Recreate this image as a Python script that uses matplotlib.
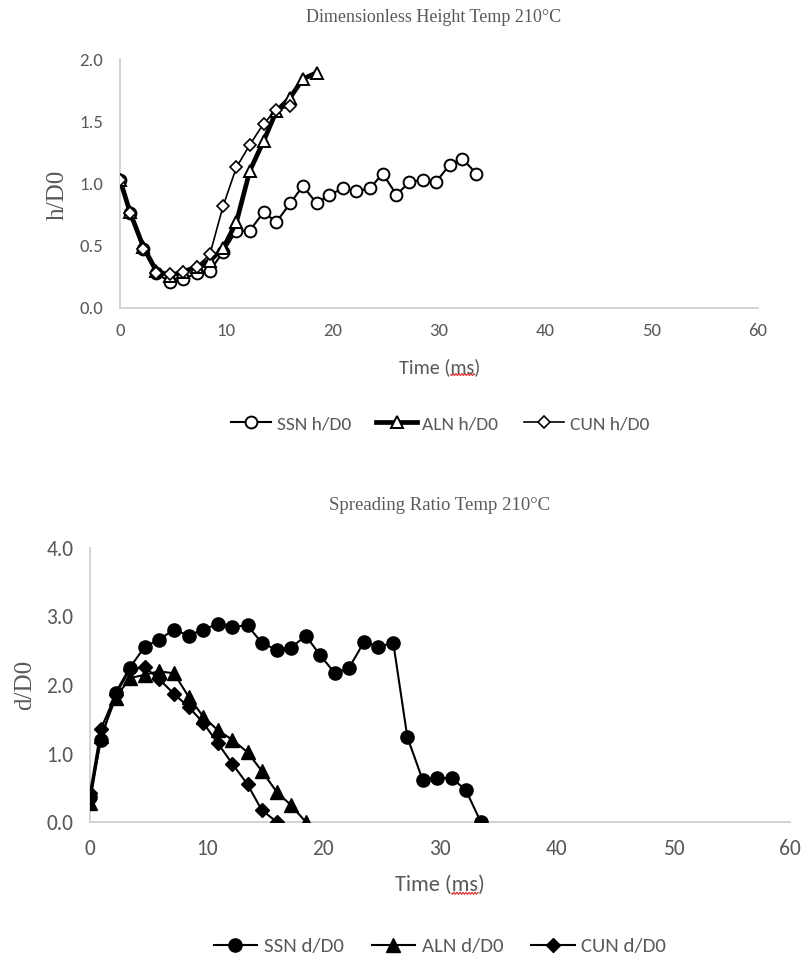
import numpy as np
import matplotlib
matplotlib.use("Agg")
import matplotlib.pyplot as plt
from matplotlib.lines import Line2D

# time axis shared by all series (ms)
time_ms = [0, 0.94, 2.2, 3.4, 4.7, 5.9, 7.2, 8.45, 9.7, 10.95, 12.2, 13.5, 14.7, 16.0,
           17.2, 18.5, 19.7, 21.0, 22.2, 23.5, 24.7, 26.0, 27.2, 28.5, 29.7, 31.0, 32.2, 33.5]

# dimensionless height h/D0
ssn_h = [1.03, 0.76, 0.47, 0.28, 0.21, 0.23, 0.28, 0.30, 0.45, 0.62, 0.62, 0.77, 0.69, 0.84,
         0.98, 0.84, 0.91, 0.96, 0.94, 0.96, 1.08, 0.91, 1.01, 1.03, 1.01, 1.15, 1.20, 1.08]
aln_h = [1.03, 0.77, 0.49, 0.30, 0.26, 0.29, 0.33, 0.38, 0.48, 0.69, 1.10, 1.34, 1.58, 1.69,
         1.84, 1.89]
cun_h = [1.03, 0.76, 0.47, 0.28, 0.27, 0.29, 0.33, 0.43, 0.82, 1.13, 1.31, 1.48, 1.59, 1.62]

# spreading ratio d/D0
ssn_d = [0.37, 1.20, 1.89, 2.25, 2.56, 2.66, 2.81, 2.72, 2.81, 2.89, 2.85, 2.87, 2.62, 2.51,
         2.54, 2.72, 2.44, 2.17, 2.25, 2.63, 2.56, 2.61, 1.24, 0.62, 0.64, 0.64, 0.47, 0.0]
aln_d = [0.28, 1.25, 1.81, 2.10, 2.15, 2.20, 2.17, 1.83, 1.54, 1.34, 1.20, 1.02, 0.75, 0.44,
         0.25, 0.0]
cun_d = [0.42, 1.36, 1.86, 2.22, 2.26, 2.09, 1.87, 1.68, 1.45, 1.15, 0.85, 0.55, 0.18, 0.0]

x_ticks = [0, 10, 20, 30, 40, 50, 60]

W, H = 801, 956
GRAY = "#595959"
AXC = "#D0D0D0"
SANS = ["Carlito", "DejaVu Sans"]
SERIF = ["Liberation Serif", "DejaVu Serif"]

fig = plt.figure(figsize=(W / 100, H / 100), dpi=100)
renderer = fig.canvas.get_renderer()


def px_axes(l, t, r, b):
    return fig.add_axes([l / W, 1 - b / H, (r - l) / W, (b - t) / H])


def style(ax, ylim, yticks, fs, xpad, ypad):
    ax.set_xlim(0, 60)
    ax.set_ylim(*ylim)
    ax.set_xticks(x_ticks)
    ax.set_yticks(yticks)
    ax.set_yticklabels([f"{v:.1f}" for v in yticks])
    for s in ["top", "right"]:
        ax.spines[s].set_visible(False)
    for s in ["left", "bottom"]:
        ax.spines[s].set_color(AXC)
        ax.spines[s].set_linewidth(1.3)
    ax.tick_params(length=0, labelsize=fs, colors=GRAY)
    ax.tick_params(axis="x", pad=xpad)
    ax.tick_params(axis="y", pad=ypad)
    for lab in ax.get_xticklabels() + ax.get_yticklabels():
        lab.set_family(SANS)
    ax.patch.set_alpha(0)


def axis_title(xc, yc, fs):
    # "Time (ms)" with the red spell-check wave under "ms"
    t = fig.text(xc / W, 1 - yc / H, "Time (ms)", family=SANS, fontsize=fs, color=GRAY,
                 ha="center", va="center")
    full = t.get_window_extent(renderer).width
    pre = fig.text(0, 0, "Time (", family=SANS, fontsize=fs)
    w_pre = pre.get_window_extent(renderer).width
    pre.remove()
    ms = fig.text(0, 0, "ms", family=SANS, fontsize=fs)
    w_ms = ms.get_window_extent(renderer).width
    ms.remove()
    x0 = xc - full / 2 + w_pre
    xs = np.linspace(x0, x0 + w_ms, 60)
    ys = yc + fs * 0.52 + 1.0 * np.sin((xs - x0) / 1.5 * np.pi)
    fig.add_artist(Line2D(xs / W, 1 - ys / H, color="#E03030", lw=0.8))


# ---------- top chart ----------
ax1 = px_axes(120, 59, 758, 308)
ax1.plot(time_ms[:len(ssn_h)], ssn_h, color="black", lw=1.5, marker="o", ms=8.5,
         mfc="white", mec="black", mew=1.4, label="SSN h/D0", zorder=3)
ax1.plot(time_ms[:len(aln_h)], aln_h, color="black", lw=3.4, marker="^", ms=8.5,
         mfc="white", mec="black", mew=1.4, label="ALN h/D0", zorder=4)
ax1.plot(time_ms[:len(cun_h)], cun_h, color="black", lw=1.2, marker="D", ms=6.5,
         mfc="white", mec="black", mew=1.2, label="CUN h/D0", zorder=5)
style(ax1, (0, 2.0), [0.0, 0.5, 1.0, 1.5, 2.0], 13.5, 11, 12)

fig.text(434 / W, 1 - 18 / H, "Dimensionless Height Temp 210°C", family=SERIF,
         fontsize=13, color=GRAY, ha="center", va="center")
fig.text(58 / W, 1 - 195 / H, "h/D0", family=SERIF, fontsize=18, color=GRAY,
         rotation=90, ha="center", va="center")
axis_title(440, 367, 14.5)

leg1 = fig.legend(handles=ax1.get_lines(), loc="center", bbox_to_anchor=(440 / W, 1 - 424 / H),
                  ncol=3, frameon=False, handlelength=2.06, columnspacing=1.3,
                  handletextpad=0.3, prop={"family": SANS, "size": 14})
for t in leg1.get_texts():
    t.set_color(GRAY)

# ---------- bottom chart ----------
ax2 = px_axes(90, 548, 790, 822)
ax2.plot(time_ms[:len(ssn_d)], ssn_d, color="black", lw=1.5, marker="o", ms=9.5,
         mfc="black", mec="black", label="SSN d/D0", zorder=3)
ax2.plot(time_ms[:len(aln_d)], aln_d, color="black", lw=1.5, marker="^", ms=9.5,
         mfc="black", mec="black", label="ALN d/D0", zorder=4)
ax2.plot(time_ms[:len(cun_d)], cun_d, color="black", lw=1.5, marker="D", ms=7,
         mfc="black", mec="black", label="CUN d/D0", zorder=5)
style(ax2, (0, 4.0), [0.0, 1.0, 2.0, 3.0, 4.0], 15.5, 12, 12)

fig.text(440 / W, 1 - 505 / H, "Spreading Ratio Temp 210°C", family=SERIF,
         fontsize=13.5, color=GRAY, ha="center", va="center")
fig.text(25 / W, 1 - 685 / H, "d/D0", family=SERIF, fontsize=18, color=GRAY,
         rotation=90, ha="center", va="center")
axis_title(440, 885, 16)

leg2 = fig.legend(handles=ax2.get_lines(), loc="center", bbox_to_anchor=(440 / W, 1 - 946 / H),
                  ncol=3, frameon=False, handlelength=2.07, columnspacing=1.35,
                  handletextpad=0.33, prop={"family": SANS, "size": 15})
for t in leg2.get_texts():
    t.set_color(GRAY)

fig.savefig("out.png", dpi=100)
